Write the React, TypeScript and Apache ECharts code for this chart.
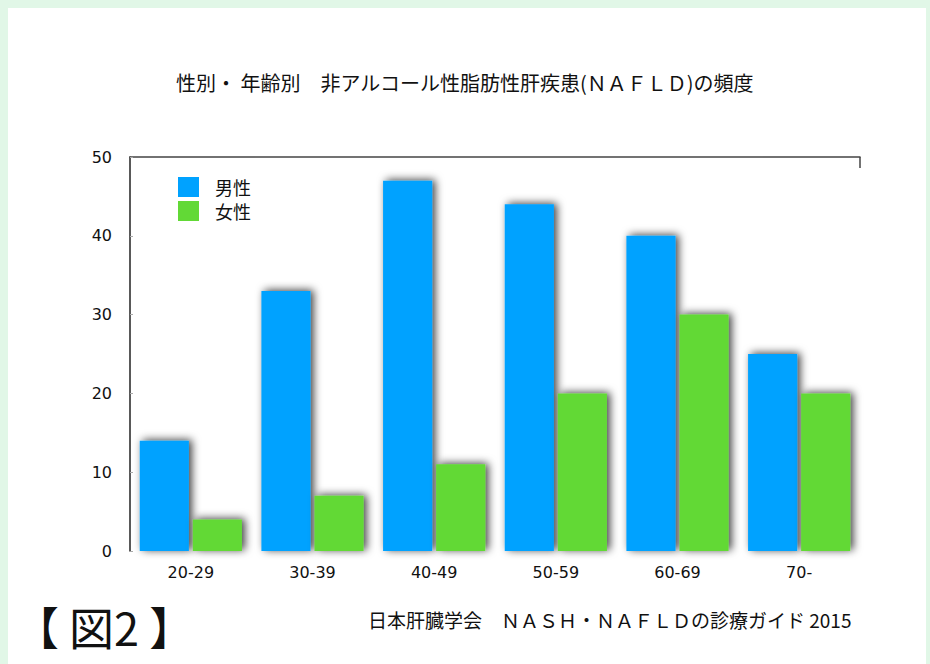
import React, { useEffect, useRef } from "react";
import * as echarts from "echarts";

const categories = ["20-29", "30-39", "40-49", "50-59", "60-69", "70-"];
const maleValues = [14, 33, 47, 44, 40, 25];
const femaleValues = [4, 7, 11, 20, 30, 20];
const yTicks = [0, 10, 20, 30, 40, 50];
const titleText = "性別・ 年齢別　非アルコール性脂肪性肝疾患(ＮＡＦＬＤ)の頻度";
const figLabel = "【 図2 】";
const sourceText = "日本肝臓学会　ＮＡＳＨ・ＮＡＦＬＤの診療ガイド 2015";

const FONT = "'Noto Sans CJK JP', 'Noto Sans', sans-serif";
const NUMFONT = "'DejaVu Sans', 'Noto Sans', sans-serif";

export default function App() {
  const ref = useRef<HTMLDivElement>(null);
  useEffect(() => {
    if (!ref.current) return;
    const chart = echarts.init(ref.current, null, { renderer: "svg" });
    const shadow = {
      shadowColor: "rgba(0,0,0,0.75)",
      shadowBlur: 8,
      shadowOffsetX: 3,
      shadowOffsetY: -1,
    };
    chart.setOption({
      animation: false,
      backgroundColor: "#e1f7e7",
      textStyle: { fontFamily: FONT },
      graphic: [
        {
          type: "rect",
          z: -10,
          shape: { x: 8, y: 8, width: 918, height: 660 },
          style: { fill: "#ffffff" },
          silent: true,
        },
        {
          type: "line",
          shape: { x1: 860, y1: 157, x2: 860, y2: 168 },
          style: { stroke: "#444", lineWidth: 1.5 },
        },
        {
          type: "text",
          left: "center",
          top: 72,
          style: { text: titleText, font: `20px ${FONT}`, fill: "#111" },
        },
        {
          type: "text",
          left: 14,
          top: 604,
          style: { text: figLabel, font: `45px ${FONT}`, fill: "#111" },
        },
        {
          type: "text",
          left: 368,
          top: 610,
          style: { text: sourceText, font: `19px ${FONT}`, fill: "#111" },
        },
      ],
      legend: {
        orient: "vertical",
        left: 178,
        top: 177,
        padding: 0,
        itemWidth: 21,
        itemHeight: 20,
        itemGap: 4,
        icon: "rect",
        textStyle: {
          fontSize: 18,
          color: "#111",
          fontFamily: FONT,
          padding: [0, 0, 0, 11],
        },
        data: ["男性", "女性"],
      },
      grid: { left: 130, right: 70, top: 157, bottom: 113 },
      xAxis: [
        {
          type: "category",
          data: categories,
          axisLine: { show: false },
          axisTick: { show: false },
          axisLabel: { fontSize: 16, color: "#111", margin: 13, fontFamily: NUMFONT },
        },
        {
          type: "category",
          position: "top",
          data: categories,
          axisLine: { show: true, lineStyle: { color: "#444", width: 1.5 } },
          axisTick: { show: false },
          axisLabel: { show: false },
        },
      ],
      yAxis: {
        type: "value",
        min: 0,
        max: 50,
        interval: 10,
        axisLine: { show: true, lineStyle: { color: "#222", width: 1.5 } },
        axisTick: { show: true, inside: true, length: 3, lineStyle: { color: "#aaa" } },
        splitLine: { show: false },
        axisLabel: {
          fontSize: 16,
          color: "#111",
          margin: 18,
          fontFamily: NUMFONT,
          formatter: (v: number) => (yTicks.includes(v) ? String(v) : ""),
        },
      },
      series: [
        {
          name: "男性",
          type: "bar",
          data: maleValues,
          barGap: "8%",
          barCategoryGap: "16%",
          itemStyle: { color: "#00a2ff", ...shadow },
        },
        {
          name: "女性",
          type: "bar",
          data: femaleValues,
          itemStyle: { color: "#62d936", ...shadow },
        },
      ],
    });
    return () => chart.dispose();
  }, []);
  return (
    <div style={{ position: "fixed", left: 0, top: 0, width: 930, height: 664 }}>
      <div ref={ref} style={{ width: 930, height: 664 }} />
    </div>
  );
}
